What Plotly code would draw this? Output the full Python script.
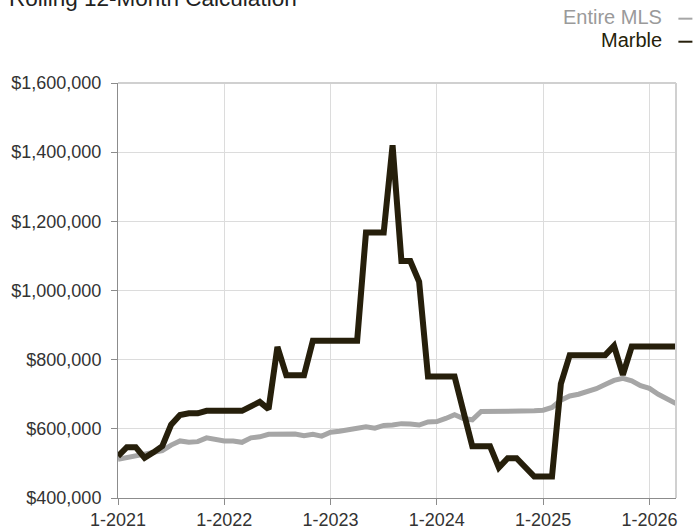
import plotly.graph_objects as go

months = [f"{m}-{y}" for y in range(2021, 2027) for m in range(1, 13)][:64]

entire_mls = [512000, 517000, 520000, 525000, 529000, 537000, 553000, 565000, 561000, 563000,
              574000, 569000, 565000, 565000, 561000, 574000, 577000, 584000, 585000, 585000,
              585000, 580000, 584000, 579000, 590000, 593000, 597000, 602000, 606000, 602000,
              610000, 611000, 615000, 614000, 611000, 620000, 621000, 630000, 641000, 630000,
              626000, 650000, 650000, 651000, 652000, 651000, 651000, 652000, 654000, 662000,
              683000, 695000, 700000, 707000, 716000, 728000, 740000, 746000, 739000, 725000,
              717000, 700000, 685000, 673000]

marble = [521000, 547000, 547000, 516000, 532000, 550000, 612000, 640000, 645000, 645000,
          652000, 652000, 652000, 652000, 652000, 665000, 678000, 657000, 837000, 755000,
          755000, 755000, 855000, 855000, 855000, 855000, 855000, 855000, 1168000, 1168000,
          1168000, 1420000, 1085000, 1085000, 1025000, 751000, 751000, 751000, 751000, 650000,
          550000, 550000, 550000, 488000, 515000, 515000, 488000, 462000, 462000, 462000,
          730000, 813000, 813000, 813000, 813000, 813000, 840000, 756000, 838000, 838000,
          838000, 838000, 838000, 838000]

year_ticks = ["1-2021", "1-2022", "1-2023", "1-2024", "1-2025", "1-2026"]
y_ticks = [400000, 600000, 800000, 1000000, 1200000, 1400000, 1600000]

GRAY = "#a6a6a6"
DARK = "#261f0b"
FONT = "Liberation Sans, Arial, sans-serif"

fig = go.Figure()
fig.add_trace(go.Scatter(x=months, y=entire_mls, mode="lines", name="Entire MLS",
                         line=dict(color=GRAY, width=5), showlegend=False))
fig.add_trace(go.Scatter(x=months, y=marble, mode="lines", name="Marble",
                         line=dict(color=DARK, width=6), showlegend=False))

# full-window figure; the page's default body margin is removed below
fig.update_layout(
    width=694, height=529,
    margin=dict(l=118, r=18, t=83, b=31, autoexpand=False),
    paper_bgcolor="white", plot_bgcolor="white",
    font=dict(family=FONT, size=18, color="#333333"),
    xaxis=dict(type="category", categoryorder="array", categoryarray=months,
               range=[0, 63], tickvals=year_ticks, ticktext=year_ticks,
               showgrid=True, gridcolor="#dcdcdc", gridwidth=1,
               showline=True, linecolor="#8c8c8c", linewidth=1,
               ticks="outside", ticklen=6, tickcolor="#8c8c8c", automargin=False,
               ticklabelstandoff=-1,
               tickfont=dict(size=18, color="#333333"), zeroline=False),
    yaxis=dict(range=[400000, 1600000], tickvals=y_ticks, tickformat="$,.0f",
               showgrid=True, gridcolor="#dcdcdc", gridwidth=1,
               showline=True, linecolor="#8c8c8c", linewidth=1,
               ticks="outside", ticklen=6, tickcolor="#8c8c8c", automargin=False,
               ticklabelstandoff=6,
               tickfont=dict(size=18, color="#333333"), zeroline=False),
    shapes=[
        dict(type="line", xref="paper", yref="paper", x0=0, x1=1, y0=1, y1=1,
             line=dict(color="#d0d0d0", width=2)),
        dict(type="line", xref="paper", yref="paper", x0=1, x1=1, y0=0, y1=1,
             line=dict(color="#d0d0d0", width=2)),
        dict(type="line", xref="paper", yref="paper", x0=1.0043, x1=1.0294, y0=1.155, y1=1.155,
             line=dict(color=GRAY, width=2)),
        dict(type="line", xref="paper", yref="paper", x0=1.0043, x1=1.0294, y0=1.0995, y1=1.0995,
             line=dict(color=DARK, width=2)),
    ],
    annotations=[
        dict(text="Rolling 12-Month Calculation", xref="paper", yref="paper",
             x=-0.199, y=1.1696, xanchor="left", yanchor="bottom", showarrow=False,
             font=dict(size=22.5, color="#222222", family=FONT)),
        dict(text="Entire MLS", xref="paper", yref="paper",
             x=0.979, y=1.159, xanchor="right", yanchor="middle", showarrow=False,
             font=dict(size=20, color="#9a9a9a", family=FONT)),
        dict(text="Marble", xref="paper", yref="paper",
             x=0.979, y=1.1036, xanchor="right", yanchor="middle", showarrow=False,
             font=dict(size=20, color=DARK, family=FONT)),
    ],
)

fig.write_html("out.html", config={"displayModeBar": False},
               post_script="document.body.style.margin='0px';document.body.style.overflow='hidden';")
